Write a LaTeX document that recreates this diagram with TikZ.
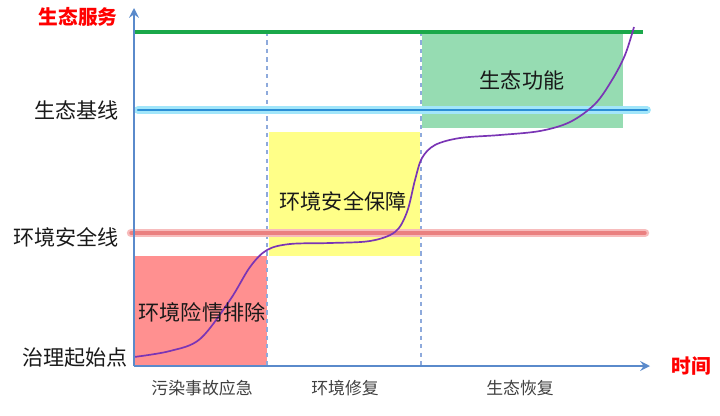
\documentclass[tikz,border=0pt]{standalone}
\usepackage{fontspec}
\usepackage{xcolor}
\usepackage{tikz}
\usetikzlibrary{arrows.meta, positioning}
\newfontfamily\cjk{Noto Sans CJK SC}
\definecolor{axisblue}{HTML}{5A8ACB}
\definecolor{dashblue}{HTML}{8EAADC}
\definecolor{zonered}{HTML}{FF9090}
\definecolor{zoneyellow}{HTML}{FFFF88}
\definecolor{zonegreen}{HTML}{96DCB2}
\definecolor{linegreen}{HTML}{1AA84A}
\definecolor{lineblue}{HTML}{2B8FD6}
\definecolor{glowblue}{HTML}{A2E6FA}
\definecolor{linered}{HTML}{EA8080}
\definecolor{glowred}{HTML}{F7BCBC}
\definecolor{curvepurple}{HTML}{7A35B5}

\begin{document}
\begin{tikzpicture}[x=0.025cm, y=-0.025cm,
    lbl/.style={font=\cjk\fontsize{15}{18}\selectfont, text=black!90, inner sep=0pt},
    phase/.style={font=\cjk\fontsize{12}{14}\selectfont, text=black!75, inner sep=0pt},
    axislbl/.style={font=\cjk\bfseries\fontsize{14}{16}\selectfont, text=red, inner sep=0pt},
    axis/.style={axisblue, line width=1.4pt, -{Stealth[length=7pt, width=7pt, inset=2.5pt]}},
    divider/.style={dashblue, dashed, line width=0.9pt},
    glow/.style={line width=5.5pt, line cap=round}]
    \useasboundingbox (0,0) rectangle (720,415);
    % Axes end points
    \coordinate (O) at (134,366);
    \coordinate (ytip) at (134,8);
    \coordinate (xtip) at (650,366);
    % Zones
    \fill[zonered] (134,256) rectangle (267,366);
    \fill[zoneyellow] (269,132) rectangle (420,256);
    \fill[zonegreen] (422,32) rectangle (623,128);
    % Phase dividers
    \draw[divider] (267,32) -- (267,366);
    \draw[divider] (421,32) -- (421,366);
    % Reference lines
    \draw[linegreen, line width=2.2pt] (134,32) -- (643,32);
    \draw[glow, glowblue] (138,110) -- (647,110);
    \draw[lineblue, line width=1.5pt, line cap=round] (138,110) -- (647,110);
    \draw[glow, glowred, line width=6pt] (131,233) -- (645,233);
    \draw[linered, line width=2.4pt, line cap=round] (131,233) -- (645,233);
    % Recovery curve
    \draw[curvepurple, line width=1.2pt] plot[smooth, tension=0.55] coordinates {
        (134,357) (170,351) (200,339) (230,300) (250,267) (267,250) (290,244)
        (330,243) (370,241) (395,232) (407,212) (415,180) (422,158) (435,145)
        (460,138) (500,135) (540,131) (570,122) (595,104) (612,80) (625,55) (634,27)};
    % Axes
    \draw[axis] (O) -- (ytip);
    \draw[axis] (O) -- (xtip);
    % Axis names
    \node[axislbl] (service) at (78,17) {生态服务};
    \node[axislbl] (time) at (691,366) {时间};
    % Levels
    \node[lbl, anchor=east] (baseline) at (119,110) {生态基线};
    \node[lbl, anchor=east] (safeline) at (119,237) {环境安全线};
    \node[lbl, anchor=east] (start) at (128,358) {治理起始点};
    % Zone names
    \node[lbl] (danger) at (202,312) {环境险情排除};
    \node[lbl] (safety) at (343,201) {环境安全保障};
    \node[lbl] (function) at (522,80) {生态功能};
    % Phases
    \node[phase] (emergency) at (202,388) {污染事故应急};
    \node[phase] (repair) at (345,388) {环境修复};
    \node[phase] (restore) at (520,388) {生态恢复};
\end{tikzpicture}
\end{document}
